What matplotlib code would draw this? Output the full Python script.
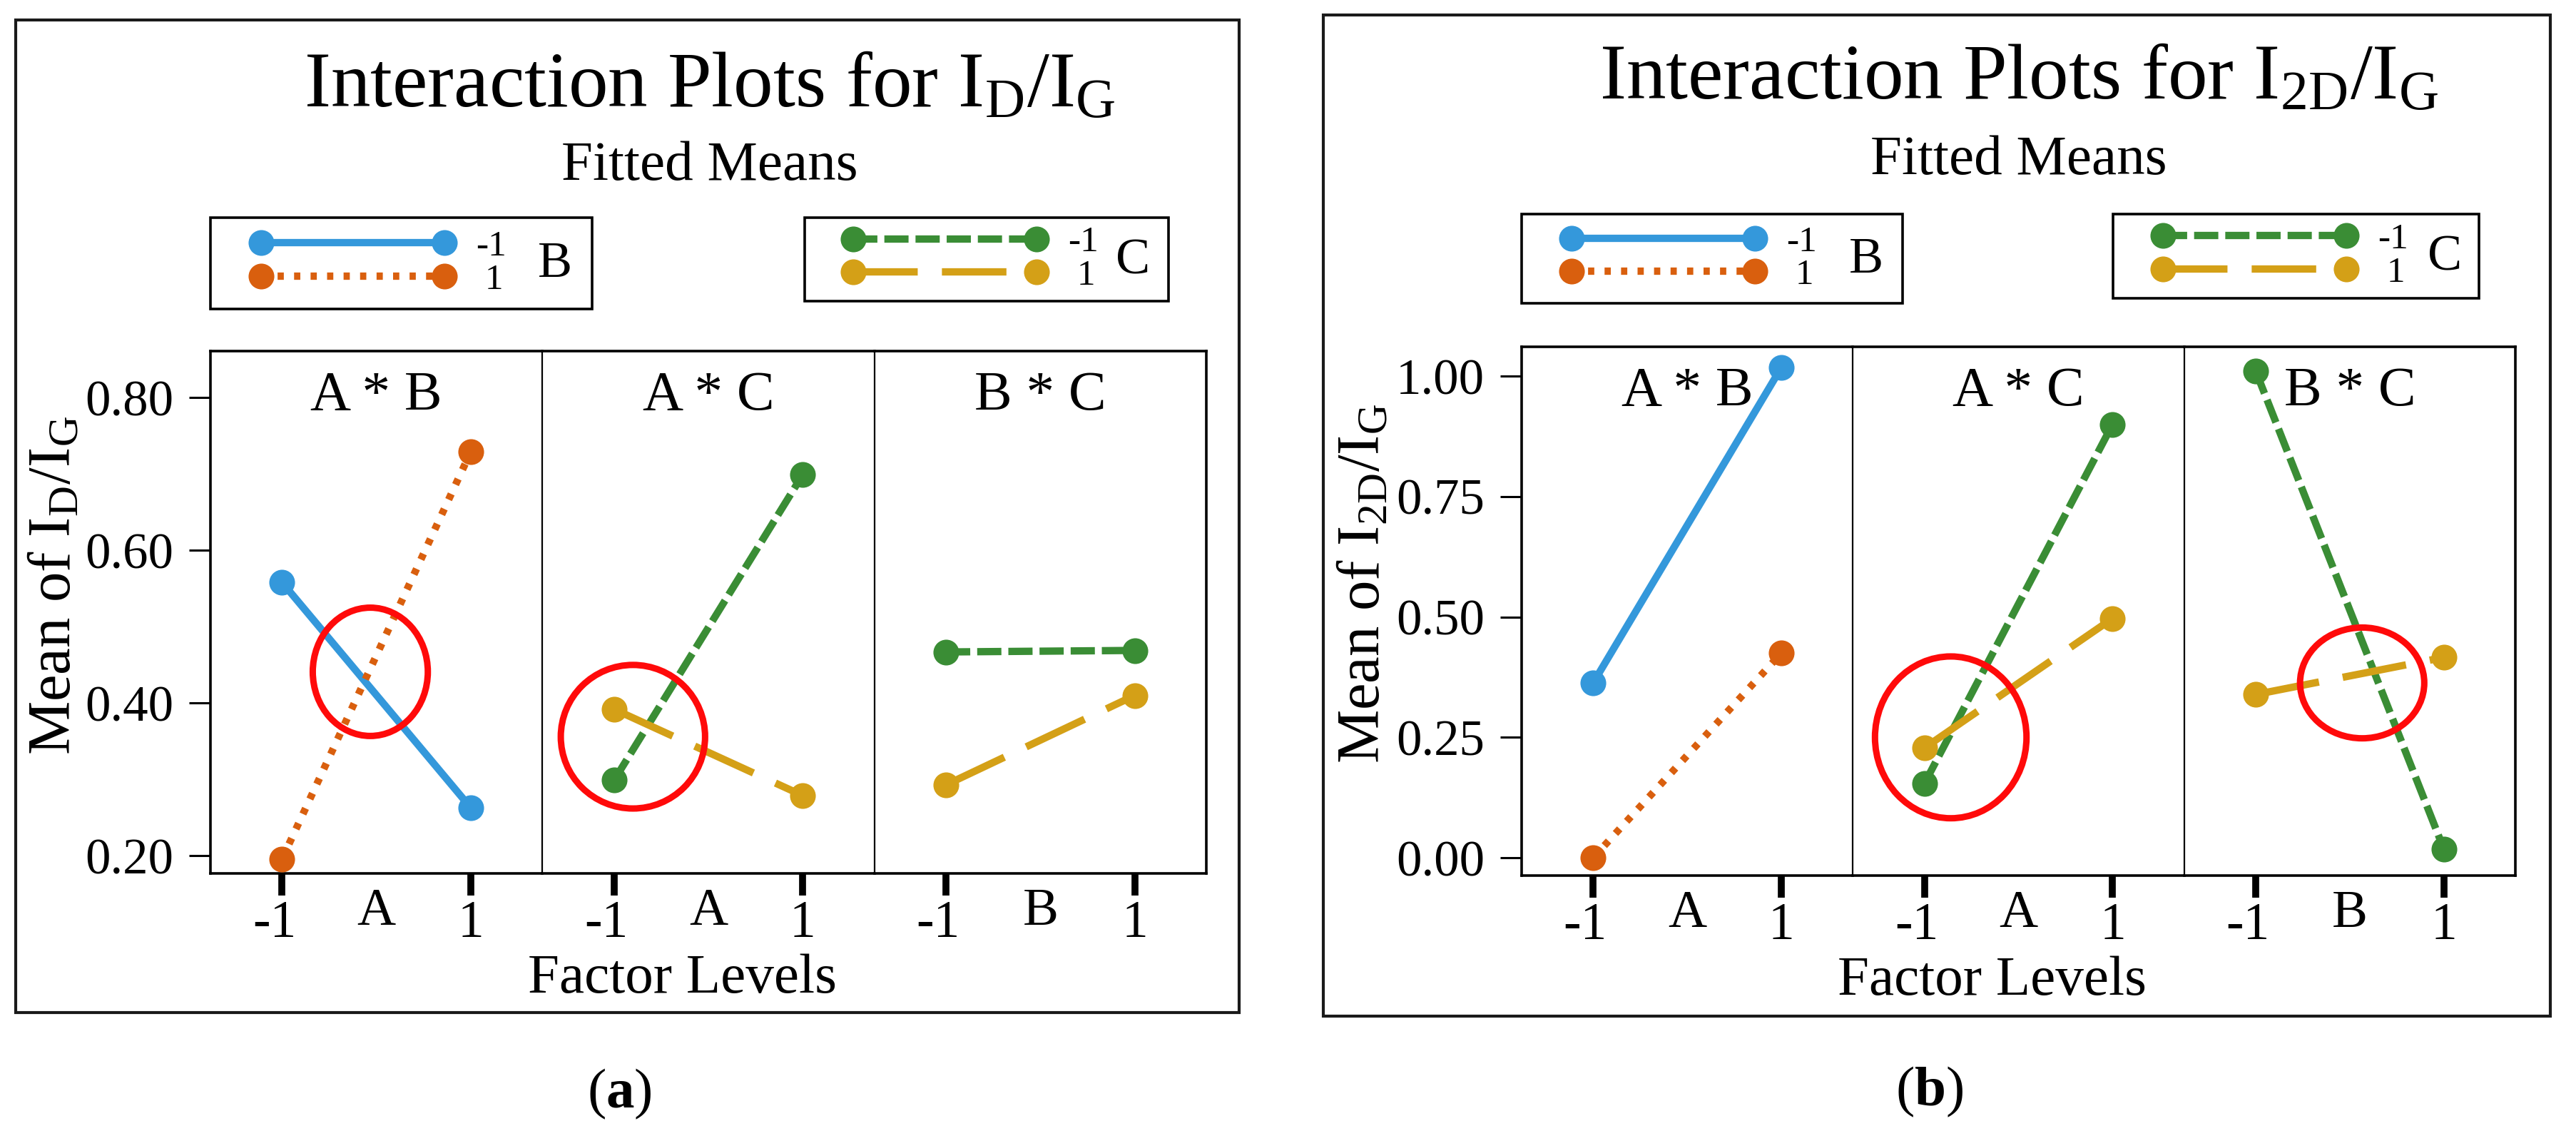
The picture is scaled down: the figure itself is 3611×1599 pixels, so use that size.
import matplotlib
matplotlib.use('Agg')
import matplotlib.pyplot as plt
from matplotlib.patches import Ellipse, Rectangle
from matplotlib.transforms import ScaledTranslation

# ---------------- data ----------------
levels = [-1, 1]
level_labels = ['-1', '1']
legend_labels = ['-1', ' 1']

# chart (a): Mean of ID/IG
a_AB_Bm = [0.558, 0.263]
a_AB_Bp = [0.196, 0.729]
a_AC_Cm = [0.299, 0.699]
a_AC_Cp = [0.392, 0.279]
a_BC_Cm = [0.467, 0.469]
a_BC_Cp = [0.293, 0.410]
a_yticks = [0.20, 0.40, 0.60, 0.80]
a_ylim = (0.177, 0.861)

# chart (b): Mean of I2D/IG
b_AB_Bm = [0.363, 1.018]
b_AB_Bp = [0.000, 0.425]
b_AC_Cm = [0.154, 0.900]
b_AC_Cp = [0.228, 0.497]
b_BC_Cm = [1.011, 0.018]
b_BC_Cp = [0.339, 0.416]
b_yticks = [0.00, 0.25, 0.50, 0.75, 1.00]
b_ylim = (-0.037, 1.061)

panel_titles = ['A * B', 'A * C', 'B * C']
panel_xnames = ['A', 'A', 'B']

# highlight circles: (panel index, x centre, y centre, width, height)
a_circles = [(0, -0.065, 0.441, 1.22, 0.168), (1, -0.80, 0.356, 1.53, 0.188)]
b_circles = [(1, -0.72, 0.250, 1.61, 0.336), (2, 0.132, 0.363, 1.32, 0.23)]

# ---------------- style ----------------
plt.rcParams['font.family'] = ['Liberation Serif', 'DejaVu Serif']
plt.rcParams['mathtext.fontset'] = 'custom'
plt.rcParams['mathtext.rm'] = 'Liberation Serif'
plt.rcParams['mathtext.it'] = 'Liberation Serif:italic'
plt.rcParams['mathtext.bf'] = 'Liberation Serif:bold'

BLUE = '#3498DB'
ORANGE = '#D95F0E'
GREEN = '#3A8D35'
GOLD = '#D4A017'
LW = 7.4
MS = 26
STY = {
    'Bm': dict(color=BLUE, dashes=None),
    'Bp': dict(color=ORANGE, dashes=(0.85, 1.4)),
    'Cm': dict(color=GREEN, dashes=(3.3, 0.95)),
    'Cp': dict(color=GOLD, dashes=(8.8, 3.3)),
}

W, H = 3611, 1599
fig = plt.figure(figsize=(W / 100, H / 100), dpi=100)


def fx(x):
    return x / W


def fy(y):
    return 1 - y / H


def draw_line(ax, vals, key):
    s = STY[key]
    kw = dict(color=s['color'], lw=LW, marker='o', ms=MS, mfc=s['color'],
              mec=s['color'], mew=0, solid_capstyle='butt', dash_capstyle='butt',
              zorder=3, clip_on=False)
    if s['dashes'] is not None:
        kw['dashes'] = s['dashes']
    ln, = ax.plot(levels, vals, **kw)
    return ln


def chart(box, axbox, series, yticks, ylim, ylabel, title, title_base,
          sub_base, leg1, leg2, flabel, tag, circles):
    # outer frame
    x0, y0, x1, y1 = box
    fig.add_artist(Rectangle((fx(x0), fy(y1)), (x1 - x0) / W, (y1 - y0) / H,
                             transform=fig.transFigure, fill=False,
                             lw=3.0, ec='#1a1a1a'))
    left, right, top, bottom = axbox
    pw = (right - left) / 3.0
    ah = bottom - top
    axes = []
    for i in range(3):
        ax = fig.add_axes([fx(left + i * pw), fy(bottom), pw / W, ah / H])
        ax.set_xlim(-1.76, 1.76)
        ax.set_ylim(*ylim)
        ax.set_xticks(levels)
        ax.set_xticklabels(level_labels)
        ax.tick_params(axis='x', length=22, width=7, pad=5, labelsize=53,
                       direction='out', color='black')
        ax.set_yticks(yticks)
        if i == 0:
            ax.set_yticklabels(['%.2f' % v for v in yticks])
            ax.tick_params(axis='y', length=21.5, width=2.2, pad=16,
                           labelsize=51, direction='out')
        else:
            ax.tick_params(axis='y', left=False, labelleft=False)
        # put the digit of "-1" under its tick, the minus sign hanging left
        for lbl in ax.get_xticklabels():
            if lbl.get_text().startswith('-'):
                lbl.set_transform(lbl.get_transform() +
                                  ScaledTranslation(-0.11, 0, fig.dpi_scale_trans))
        for sp in ax.spines.values():
            sp.set_linewidth(2.6)
            sp.set_color('black')
        if i > 0:
            ax.spines['left'].set_linewidth(1.6)
        if i < 2:
            ax.spines['right'].set_visible(False)
        ax.text(0.5, 1 - 63.0 / ah, panel_titles[i],
                transform=ax.transAxes, ha='center', va='center', fontsize=57)
        ax.text(0.5, -54.0 / ah, panel_xnames[i],
                transform=ax.transAxes, ha='center', va='center', fontsize=54)
        axes.append(ax)

    handles = {}
    for i, (k1, v1, k2, v2) in enumerate(series):
        handles[k1] = draw_line(axes[i], v1, k1)
        handles[k2] = draw_line(axes[i], v2, k2)

    for (pi, cx, cy, w, h) in circles:
        axes[pi].add_patch(Ellipse((cx, cy), w, h, fill=False, ec='#FF0A0A',
                                   lw=6.5, zorder=6, clip_on=False))

    # y label
    fig.text(fx(ylabel[0]), fy(ylabel[1]), ylabel[2], rotation=90,
             ha='center', va='center', fontsize=61)
    # titles
    fig.text(fx(title[0]), fy(title_base), title[1], ha='center',
             va='baseline', fontsize=80)
    fig.text(fx(title[0]), fy(sub_base), 'Fitted Means', ha='center',
             va='baseline', fontsize=57)

    # legends
    for (bx0, by0, bx1, by1, hx, keys, letter, lx) in (leg1, leg2):
        fig.add_artist(Rectangle((fx(bx0), fy(by1)), (bx1 - bx0) / W, (by1 - by0) / H,
                                 transform=fig.transFigure, fill=False,
                                 lw=2.6, ec='black'))
        yc = (by0 + by1) / 2.0
        fig.legend(handles=[handles[k] for k in keys], labels=legend_labels,
                   loc='center left', bbox_to_anchor=(fx(hx), fy(yc)),
                   frameon=False, fontsize=37, numpoints=2, handlelength=5.6,
                   handletextpad=0.55, labelspacing=0.0, borderpad=0,
                   borderaxespad=0, handleheight=0.7)
        fig.text(fx(lx), fy(yc + 2), letter, ha='center', va='center', fontsize=52)

    fig.text(fx(flabel[0]), fy(flabel[1]), 'Factor Levels', ha='center',
             va='center', fontsize=57)
    fig.text(fx(tag[0]), fy(tag[1]), tag[2], ha='center', va='center',
             fontsize=57)


chart(box=(22, 28, 1737, 1419), axbox=(295, 1691, 492, 1224),
      series=[('Bm', a_AB_Bm, 'Bp', a_AB_Bp),
              ('Cm', a_AC_Cm, 'Cp', a_AC_Cp),
              ('Cm', a_BC_Cm, 'Cp', a_BC_Cp)],
      yticks=a_yticks, ylim=a_ylim,
      ylabel=(77, 821, r'Mean of $\mathrm{I_D/I_G}$'),
      title=(995, r'Interaction Plots for $\mathrm{I_D/I_G}$'),
      title_base=150, sub_base=252,
      leg1=(295, 305, 830, 433, 351, ['Bm', 'Bp'], 'B', 778),
      leg2=(1128, 305, 1638, 422, 1181, ['Cm', 'Cp'], 'C', 1588),
      flabel=(956, 1372), tag=(868, 1533, r'($\mathbf{a}$)'),
      circles=a_circles)

chart(box=(1855, 21, 3575, 1424), axbox=(2133, 3526, 486, 1227),
      series=[('Bm', b_AB_Bm, 'Bp', b_AB_Bp),
              ('Cm', b_AC_Cm, 'Cp', b_AC_Cp),
              ('Cm', b_BC_Cm, 'Cp', b_BC_Cp)],
      yticks=b_yticks, ylim=b_ylim,
      ylabel=(1912, 818, r'Mean of $\mathrm{I_{2D}/I_G}$'),
      title=(2830, r'Interaction Plots for $\mathrm{I_{2D}/I_G}$'),
      title_base=139, sub_base=244,
      leg1=(2133, 300, 2667, 425, 2188, ['Bm', 'Bp'], 'B', 2616),
      leg2=(2962, 300, 3475, 418, 3017, ['Cm', 'Cp'], 'C', 3427),
      flabel=(2792, 1375), tag=(2705, 1530, r'($\mathbf{b}$)'),
      circles=b_circles)

fig.savefig('out.png', dpi=100, facecolor='white')
